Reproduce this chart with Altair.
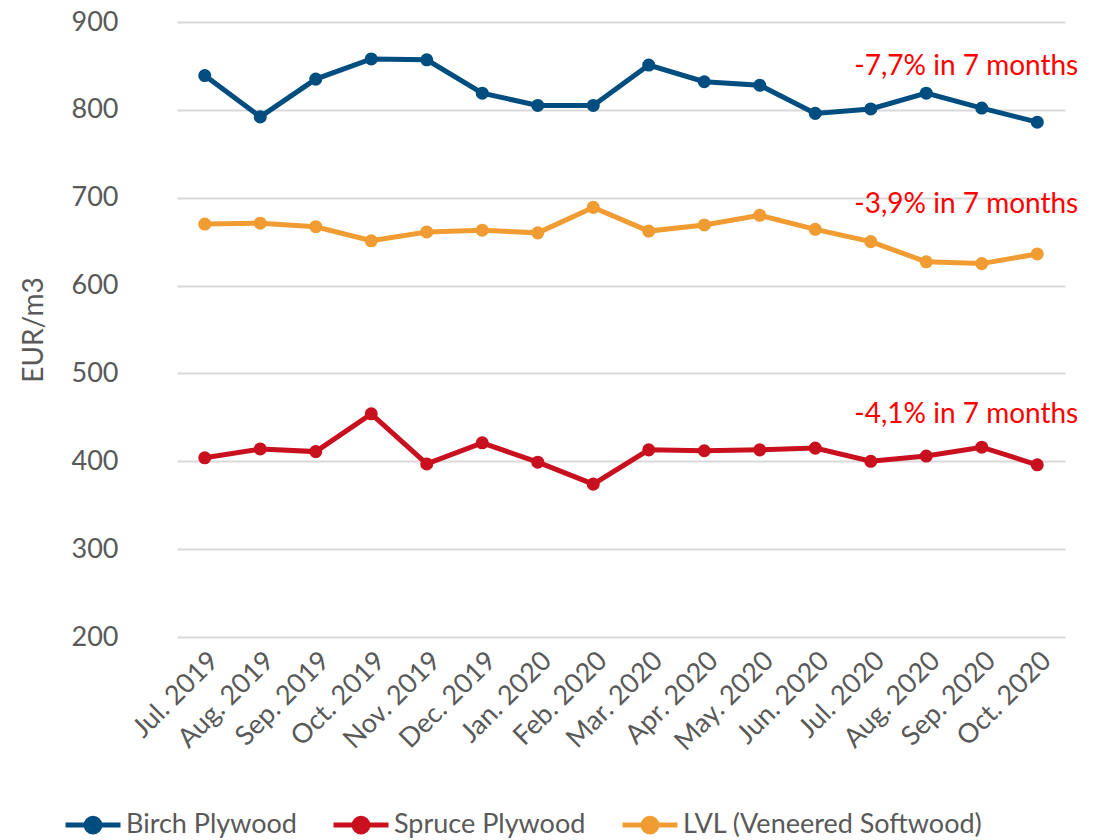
import altair as alt
import pandas as pd

months = ["Jul. 2019", "Aug. 2019", "Sep. 2019", "Oct. 2019", "Nov. 2019", "Dec. 2019",
          "Jan. 2020", "Feb. 2020", "Mar. 2020", "Apr. 2020", "May. 2020", "Jun. 2020",
          "Jul. 2020", "Aug. 2020", "Sep. 2020", "Oct. 2020"]
birch = [839, 792, 835, 858, 857, 819, 805, 805, 851, 832, 828, 796, 801, 819, 802, 786]
spruce = [404, 414, 411, 454, 397, 421, 399, 374, 413, 412, 413, 415, 400, 406, 416, 396]
lvl = [670, 671, 667, 651, 661, 663, 660, 689, 662, 669, 680, 664, 650, 627, 625, 636]
series_names = ["Birch Plywood", "Spruce Plywood", "LVL (Veneered Softwood)"]
colors = ["#004D7F", "#C8101E", "#F09C32"]

notes = ["-7,7% in 7 months", "-3,9% in 7 months", "-4,1% in 7 months"]
note_y = [849, 692, 453]

rows = []
for name, vals in zip(series_names, [birch, spruce, lvl]):
    for m, v in zip(months, vals):
        rows.append({"month": m, "value": v, "series": name})
df = pd.DataFrame(rows)
notes_df = pd.DataFrame({"text": notes, "y": note_y, "month": ["Oct. 2020"] * 3})

FONT = "Lato"
GRAY = "#595959"

x = alt.X("month:N", sort=months, title=None,
          scale=alt.Scale(type="point", padding=0.5),
          axis=alt.Axis(labelAngle=-45, labelFontSize=27, labelColor=GRAY, labelFont=FONT,
                        domain=False, ticks=False, grid=False, labelPadding=10))
y = alt.Y("value:Q", title="EUR/m3",
          scale=alt.Scale(domain=[200, 900], nice=False, zero=False),
          axis=alt.Axis(values=[200, 300, 400, 500, 600, 700, 800, 900], labelFontSize=27,
                        labelColor=GRAY, labelFont=FONT, titleFont=FONT, titleFontSize=28,
                        titleColor=GRAY, titleFontWeight="normal", domain=False, ticks=False,
                        gridColor="#D9D9D9", gridWidth=2, labelPadding=59, titlePadding=23))

sym = "M -1 0 L 1 0 M 0.25 0 A 0.25 0.25 0 1 1 -0.25 0 A 0.25 0.25 0 1 1 0.25 0 Z"
color = alt.Color("series:N", sort=series_names,
                  scale=alt.Scale(domain=series_names, range=colors),
                  legend=alt.Legend(title=None, orient="none", direction="horizontal",
                                    legendX=-114, legendY=773, symbolType=sym, symbolSize=3025,
                                    symbolStrokeWidth=5, labelFontSize=27, labelFont=FONT,
                                    labelColor=GRAY, columnPadding=26, symbolOffset=0,
                                    labelOffset=3, labelLimit=600, padding=0))

base = alt.Chart(df)
lines = base.mark_line(strokeWidth=5).encode(x=x, y=y, color=color)
pts = base.mark_point(filled=True, size=170, opacity=1).encode(
    x=x, y=y, color=alt.Color("series:N", scale=alt.Scale(domain=series_names, range=colors), legend=None))
text = alt.Chart(notes_df).mark_text(color="#FF0000", fontSize=28, font=FONT, align="right",
                                     baseline="middle", dx=41).encode(
    x=alt.X("month:N", sort=months), y=alt.Y("y:Q"), text="text:N")

chart = alt.layer(lines, pts, text).properties(
    width=888, height=615,
    background="white",
    autosize=alt.AutoSizeParams(type="none"),
    padding={"left": 169, "top": 14, "right": 30, "bottom": 210},
).configure_view(stroke=None, strokeWidth=0)

chart.save("out.html", embed_options={"renderer": "svg", "actions": False})
